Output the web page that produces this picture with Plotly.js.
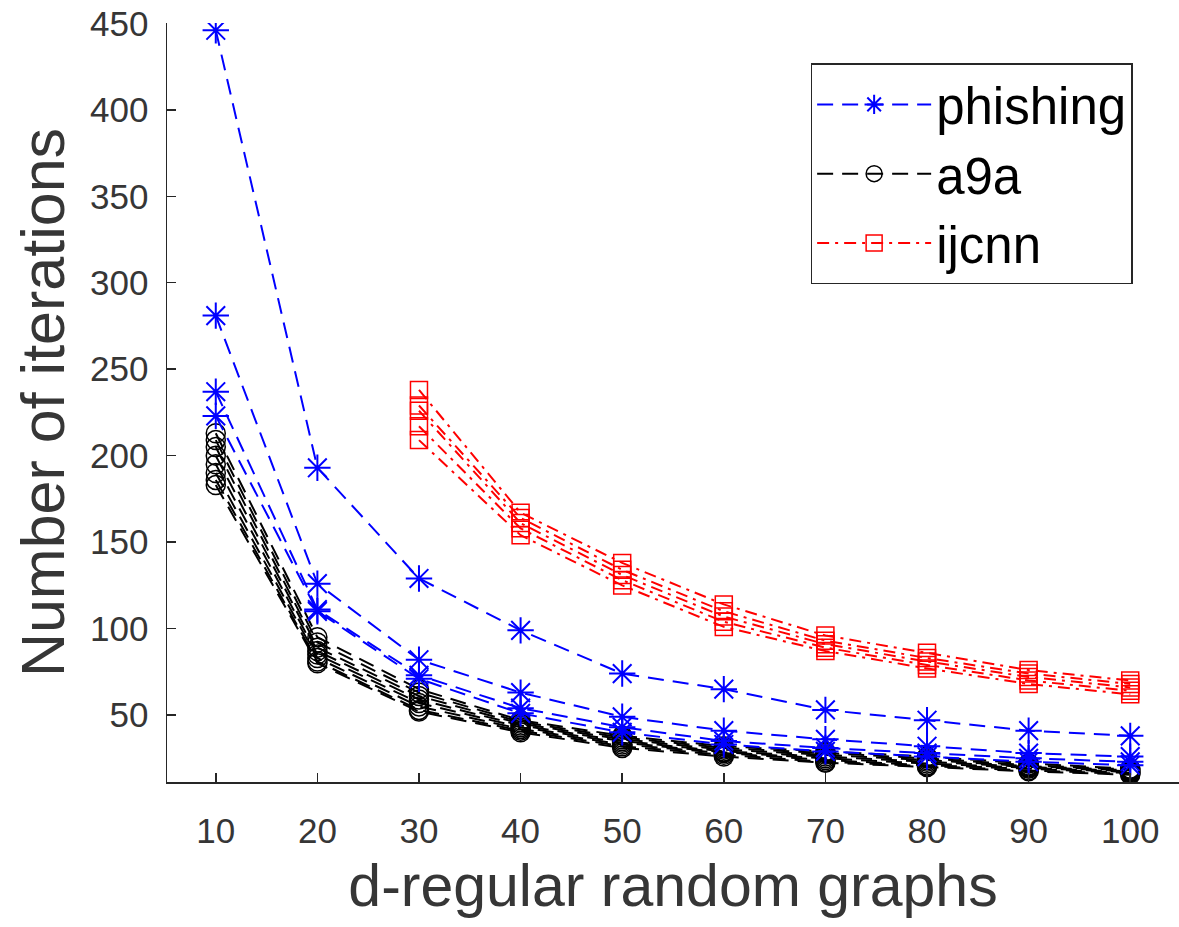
<!DOCTYPE html>
<html>
<head>
<meta charset="utf-8">
<script src="https://cdn.plot.ly/plotly-3.0.1.min.js"></script>
<style>
  html, body { margin: 0; padding: 0; background: #ffffff; }
  #chart { width: 1179px; height: 927px; }
</style>
</head>
<body>
<div id="chart"></div>
<script>
// x values (degree d of the random regular graph)
const dValues = [10, 20, 30, 40, 50, 60, 70, 80, 90, 100];
const ijcnnD = [30, 40, 50, 60, 70, 80, 90, 100];
const yTicks = [50, 100, 150, 200, 250, 300, 350, 400, 450];

// phishing runs
const phishing1 = [446, 193, 129, 99, 74, 65, 53, 47, 41, 38];
const phishing2 = [281, 126, 82, 63, 49, 41, 36, 32, 28, 26];
const phishing3 = [237, 111, 73, 54, 43, 35, 31, 28, 25, 23];
const phishing4 = [223, 110, 71, 51, 40, 33, 29, 26, 23, 21];

// a9a runs
const a9a1 = [213, 95, 65, 47, 38, 32, 29, 26, 22, 19];
const a9a2 = [209, 92, 63, 46, 37, 31, 28, 25, 21, 18.5];
const a9a3 = [205, 89, 61, 45, 36, 30, 27, 24, 20.5, 18];
const a9a4 = [200, 87, 59, 44, 35, 29, 26, 23, 20, 17.5];
const a9a5 = [195, 85, 57, 43, 34, 28.5, 25, 22, 19.5, 17];
const a9a6 = [190, 83, 55, 42, 33, 28, 24, 21, 19, 16.5];
const a9a7 = [186, 81, 53, 41, 32, 27, 23, 20.5, 18, 16];
const a9a8 = [183, 80, 52, 40, 31, 26, 22.5, 20, 17.5, 15.5];

// ijcnn runs
const ijcnn1 = [238, 167, 138, 114, 96, 86, 76, 70];
const ijcnn2 = [229, 164, 134, 110, 93, 83, 74, 68];
const ijcnn3 = [226, 161, 131, 107, 91, 81, 72, 66];
const ijcnn4 = [217, 158, 128, 104, 89, 79, 70, 64];
const ijcnn5 = [209, 154, 125, 101, 87, 77, 68, 62];

const phishingRuns = [phishing1, phishing2, phishing3, phishing4];
const a9aRuns = [a9a1, a9a2, a9a3, a9a4, a9a5, a9a6, a9a7, a9a8];
const ijcnnRuns = [ijcnn1, ijcnn2, ijcnn3, ijcnn4, ijcnn5];

const FONT = '"Liberation Sans", Arial, Helvetica, sans-serif';
const TXT = '#363636';
const AX = '#262626';

const traces = [];

a9aRuns.forEach((ys, i) => {
  traces.push({
    x: dValues, y: ys, type: 'scatter', mode: 'lines+markers',
    name: 'a9a', legendgroup: 'a9a', legendrank: 2, showlegend: i === 0,
    line: { color: '#000000', width: 2, dash: '16px,9px' },
    marker: { symbol: 'circle-open', size: 19, color: '#000000', line: { width: 1.5, color: '#000000' } }
  });
});

phishingRuns.forEach((ys, i) => {
  traces.push({
    x: dValues, y: ys, type: 'scatter', mode: 'lines+markers',
    name: 'phishing', legendgroup: 'phishing', legendrank: 1, showlegend: i === 0,
    line: { color: '#0000ff', width: 2, dash: '16px,9px' },
    marker: { symbol: 'asterisk-open', size: 22, color: '#0000ff', line: { width: 2, color: '#0000ff' } }
  });
});

ijcnnRuns.forEach((ys, i) => {
  traces.push({
    x: ijcnnD, y: ys, type: 'scatter', mode: 'lines+markers',
    name: 'ijcnn', legendgroup: 'ijcnn', legendrank: 3, showlegend: i === 0,
    line: { color: '#ff0000', width: 2, dash: '12px,6px,3px,6px' },
    marker: { symbol: 'square-open', size: 17, color: '#ff0000', line: { width: 1.5, color: '#ff0000' } }
  });
});

const layout = {
  width: 1179, height: 927,
  margin: { l: 167, r: 0, t: 23, b: 145, pad: 0 },
  paper_bgcolor: '#ffffff', plot_bgcolor: '#ffffff',
  font: { family: FONT, color: TXT },
  showlegend: true,
  legend: {
    x: 0.636, y: 0.947, xanchor: 'left', yanchor: 'top',
    bgcolor: '#ffffff', bordercolor: AX, borderwidth: 1.5,
    font: { family: FONT, size: 51, color: '#000000' },
    itemwidth: 114, traceorder: 'grouped', tracegroupgap: 0
  },
  xaxis: {
    range: [5.2, 104.8], tickvals: dValues, ticktext: dValues.map(String),
    ticks: 'inside', ticklen: 9, tickwidth: 1.5, tickcolor: AX,
    showline: true, linecolor: AX, linewidth: 1.5, mirror: false,
    showgrid: false, zeroline: false,
    tickfont: { family: FONT, size: 35, color: TXT },
    ticklabelstandoff: 17,
    title: { text: 'd-regular random graphs', font: { family: FONT, size: 59, color: TXT }, standoff: 16 }
  },
  yaxis: {
    range: [11.3, 450.2], tickvals: yTicks, ticktext: yTicks.map(String),
    ticks: 'inside', ticklen: 9, tickwidth: 1.5, tickcolor: AX,
    showline: true, linecolor: AX, linewidth: 1.5, mirror: false,
    showgrid: false, zeroline: false,
    tickfont: { family: FONT, size: 35, color: TXT },
    ticklabelstandoff: 10,
    title: { text: 'Number of iterations', font: { family: FONT, size: 61, color: TXT }, standoff: 5 }
  }
};

Plotly.newPlot('chart', traces, layout, { displayModeBar: false, staticPlot: true });
</script>
</body>
</html>
